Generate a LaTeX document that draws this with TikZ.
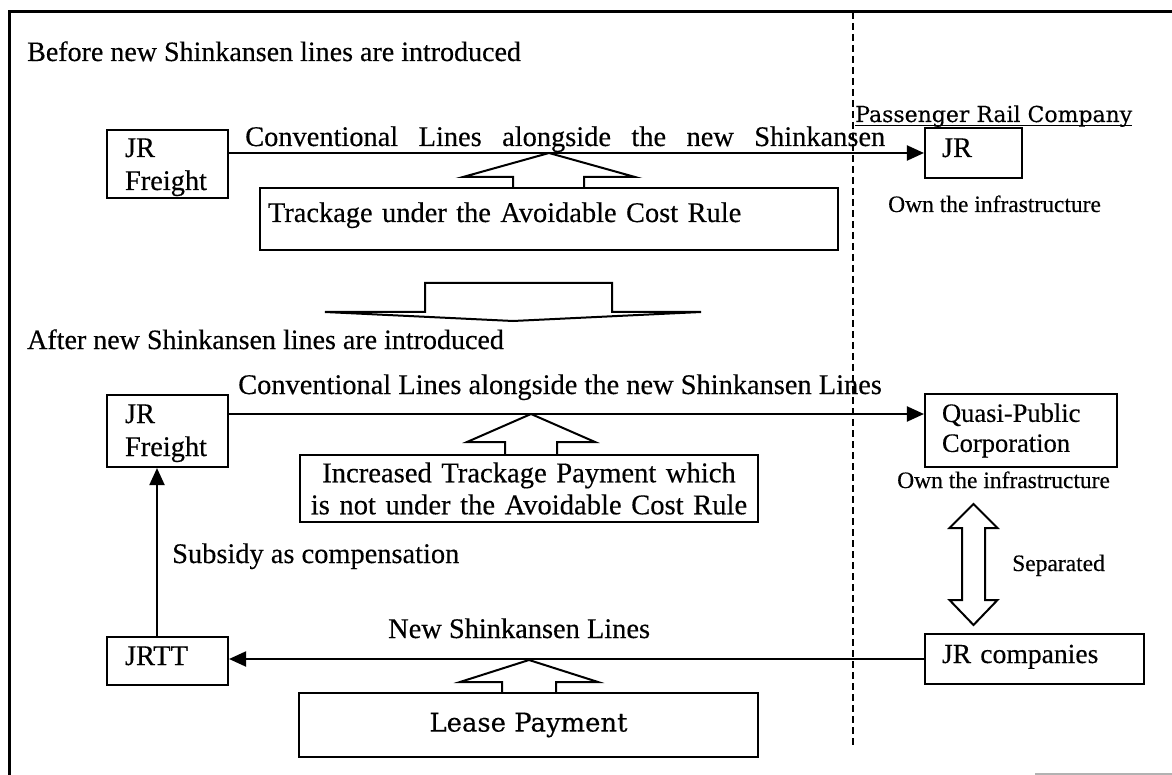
\documentclass[tikz,border=0pt]{standalone}
\usepackage{fontspec}
\usepackage{graphicx}
\setmainfont{Liberation Serif}[FakeBold=0.35]
\newfontfamily\dvs{DejaVu Serif}[FakeBold=0.3]
\usetikzlibrary{arrows.meta,calc}
\begin{document}
\begin{tikzpicture}[x=1pt,y=-1pt,
  box/.style={draw, line width=2.1pt, inner sep=0pt},
  lbl/.style={inner sep=0pt, anchor=base west},
  big/.style={font=\fontsize{28.4pt}{33pt}\selectfont},
  small/.style={font=\fontsize{23.5pt}{27pt}\selectfont},
  conn/.style={line width=2pt},
  arr/.style={conn, -{Triangle[length=17pt,width=15pt]}},
  blockarrow/.style={line width=2pt, line join=miter},
  sepline/.style={line width=2pt, dash pattern=on 7pt off 4pt}]
\useasboundingbox (0,0) rectangle (1172,775);
\fill[white] (0,0) rectangle (1172,775);
% frame
\draw[line width=2.4pt] (9.6,775) -- (9.6,11.7) -- (1172,11.7);
\draw[line width=1.5pt, gray!60] (1035,774) -- (1172,774);
% separating dashed line
\coordinate (dtop) at (853,12);
\coordinate (dbot) at (853,748);
\draw[sepline] (dtop) -- (dbot);

% ===== before =====
\node[lbl, font=\fontsize{28pt}{32pt}\selectfont] (t1) at (27,61) {Before new Shinkansen lines are introduced};
\node[box, big, minimum width=121pt, minimum height=68pt, text width=85pt, align=left, text height=19pt, text depth=33pt] (jrf1) at (167.5,164) {JR\\Freight};
\node[box, big, minimum width=97pt, minimum height=50pt, text width=63pt, align=left, text height=19pt, text depth=11pt] (jr1) at (973.5,153) {JR};
\node[lbl, big] (l1) at (245,146) {\makebox[640pt][s]{Conventional Lines alongside the new Shinkansen}};
\draw[arr] (jrf1.east |- jr1.west) -- (jr1.west);
\node[box, big, minimum width=578pt, minimum height=62pt, text width=562pt, align=left, text height=19.5pt, text depth=13.5pt] (trk) at (549,219) {Trackage under the Avoidable Cost Rule};
\draw[blockarrow] (513,188) -- (513,177) -- (463,177) -- (549,153) -- (635,177) -- (584,177) -- (584,188);
\node[lbl] (prc) at (855,122) {\resizebox{277pt}{!}{\dvs Passenger Rail Company}};
\draw[line width=1.6pt] ($(prc.base west)+(0,3.5)$) -- ($(prc.base east)+(0,3.5)$);
\node[lbl, small] (own1) at (888,212) {Own the infrastructure};

% transition arrow
\draw[blockarrow] (325,312) -- (425,312) -- (425,283) -- (612,283) -- (612,312) -- (701,312) -- (513,321) -- cycle;

% ===== after =====
\node[lbl, font=\fontsize{28pt}{32pt}\selectfont] (t2) at (27,349) {After new Shinkansen lines are introduced};
\node[box, big, minimum width=121pt, minimum height=72pt, text width=85pt, align=left, text height=19pt, text depth=35pt] (jrf2) at (167.5,431) {JR\\Freight};
\node[box, font=\fontsize{26.5pt}{30pt}\selectfont, minimum width=192pt, minimum height=73pt, text width=158pt, align=left] (quasi) at (1021,430.5) {Quasi-Public\\Corporation};
\node[lbl, big] (l2) at (238,394) {Conventional Lines alongside the new Shinkansen Lines};
\coordinate (r2) at (0,414);
\draw[arr] (jrf2.east |- r2) -- (quasi.west |- r2);
\node[box, minimum width=458pt, minimum height=67pt, text width=440pt, align=center, font=\fontsize{28.6pt}{32pt}\selectfont] (inc) at (529,488.5) {Increased Trackage Payment which\\is not under the Avoidable Cost Rule};
\draw[blockarrow] (505,455) -- (505,442) -- (467,442) -- (531,414) -- (595,442) -- (557,442) -- (557,455);
\node[lbl, small] (own2) at (897,488) {Own the infrastructure};

\node[box, font=\fontsize{27.6pt}{32pt}\selectfont, minimum width=219pt, minimum height=50pt, text width=185pt, align=left, text height=19pt, text depth=11pt] (jrc) at (1034.5,659) {JR companies};
\draw[blockarrow] (973.5,504) -- (997.5,528) -- (985,528) -- (985,600) -- (997.5,600) -- (973.5,625) -- (949.5,600) -- (962,600) -- (962,528) -- (949.5,528) -- cycle;
\node[lbl, small] (sep) at (1012,571) {Separated};

\node[box, big, minimum width=121pt, minimum height=48pt, text width=85pt, align=left, text height=19pt, text depth=11pt] (jrtt) at (167.5,661) {JRTT};
\draw[arr] (jrc.west) -- (jrc.west -| jrtt.east);
\node[lbl, big] (nsl) at (388,638) {New Shinkansen Lines};
\node[box, minimum width=459pt, minimum height=64pt] (lease) at (528.5,725) {\resizebox{198pt}{!}{\dvs Lease Payment}};
\draw[blockarrow] (502,693) -- (502,682) -- (460,682) -- (529,660) -- (598,682) -- (556,682) -- (556,693);

\draw[arr] ($(jrtt.north)+(-10.5,0)$) -- ($(jrf2.south)+(-10.5,0)$);
\node[lbl, big] (sub) at (172,563) {Subsidy as compensation};
\end{tikzpicture}
\end{document}
